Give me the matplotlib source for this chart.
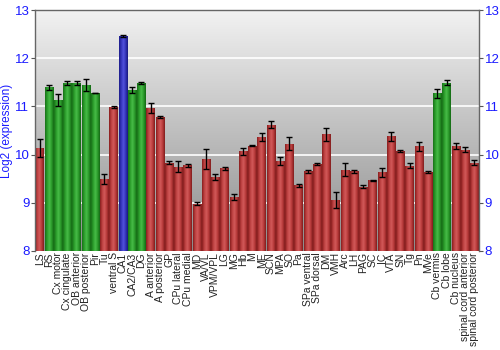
import numpy as np
import matplotlib
matplotlib.use("Agg")
import matplotlib.pyplot as plt
from matplotlib.colors import LinearSegmentedColormap

plt.rcParams['font.family'] = ['Liberation Sans', 'DejaVu Sans']

categories = ["LS", "RS", "Cx motor", "Cx cingulate", "OB anterior", "OB posterior", "Pir", "Tu",
              "ventral S", "CA1", "CA2/CA3", "DG", "A anterior", "A posterior", "GP", "CPu lateral",
              "CPu medial", "MD", "VA/VL", "VPM/VPL", "LG", "MG", "Hb", "M", "ME", "SCN", "MPA", "SO",
              "Pa", "SPa ventral", "SPa dorsal", "DM", "VMH", "Arc", "LH", "PAG", "SC", "IC", "VTA",
              "SN", "Tg", "Pn", "MVe", "Cb vermis", "Cb lobe", "Cb nucleus", "spinal cord anterior",
              "spinal cord posterior"]
values = [10.14, 11.40, 11.13, 11.48, 11.48, 11.45, 11.28, 9.49,
          10.99, 12.47, 11.34, 11.48, 10.97, 10.79, 9.83, 9.75,
          9.78, 8.98, 9.91, 9.54, 9.72, 9.12, 10.07, 10.18, 10.37, 10.62, 9.87, 10.23,
          9.36, 9.65, 9.80, 10.42, 9.06, 9.69, 9.65, 9.33, 9.47, 9.63, 10.38,
          10.07, 9.77, 10.17, 9.64, 11.27, 11.49, 10.18, 10.10, 9.83]
errors = [0.19, 0.05, 0.12, 0.04, 0.04, 0.13, 0.01, 0.10,
          0.03, 0.02, 0.06, 0.02, 0.10, 0.02, 0.03, 0.12,
          0.03, 0.03, 0.20, 0.06, 0.03, 0.07, 0.07, 0.01, 0.08, 0.07, 0.09, 0.13,
          0.04, 0.03, 0.02, 0.13, 0.16, 0.13, 0.03, 0.03, 0.01, 0.10, 0.10,
          0.02, 0.05, 0.10, 0.03, 0.10, 0.05, 0.07, 0.05, 0.05]
groups = ["r", "g", "g", "g", "g", "g", "g", "r",
          "r", "b", "g", "g", "r", "r", "r", "r",
          "r", "r", "r", "r", "r", "r", "r", "r", "r", "r", "r", "r",
          "r", "r", "r", "r", "r", "r", "r", "r", "r", "r", "r",
          "r", "r", "r", "r", "g", "g", "r", "r", "r"]
yticks = [8, 9, 10, 11, 12, 13]

palettes = {
    "r": ["#861e1e", "#bd4040", "#d25a5a", "#b83a3a", "#801c1c"],
    "g": ["#187018", "#2c9e2c", "#48bc48", "#2a9a2a", "#146814"],
    "b": ["#1c1c8a", "#3535bb", "#5252dd", "#3434b8", "#18187e"],
}

fig = plt.figure(figsize=(5, 3.5), dpi=100)
ax = fig.add_axes([0.07, 0.283, 0.888, 0.688])

n = len(categories)
x = np.arange(n)
ax.set_xlim(-0.5, n - 0.5)
ax.set_ylim(8, 13)

# background gradient
bg = LinearSegmentedColormap.from_list("bg", ["#8c8c8c", "#f2f2f2"])
grad = np.linspace(0, 1, 256).reshape(-1, 1)
ax.imshow(grad, cmap=bg, origin="lower", extent=(-0.5, n - 0.5, 8, 13),
          aspect="auto", zorder=0)

for yv in yticks[1:-1]:
    ax.axhline(yv, color="white", lw=1.2, zorder=1)

bars = ax.bar(x, np.array(values) - 8, bottom=8, width=0.9, color="none", zorder=2)
hgrad = np.linspace(0, 1, 64).reshape(1, -1)
for b, g in zip(bars, groups):
    cmap = LinearSegmentedColormap.from_list("c" + g, palettes[g])
    x0 = b.get_x()
    w = b.get_width()
    im = ax.imshow(hgrad, cmap=cmap, extent=(x0, x0 + w, 8, b.get_y() + b.get_height()),
                   aspect="auto", zorder=2)
    im.set_clip_path(b)

ax.errorbar(x, values, yerr=errors, fmt="none", ecolor="black", elinewidth=1,
            capsize=2, capthick=1, zorder=3)

ax.set_xticks(x)
ax.set_xticklabels(categories, rotation=90, fontsize=7.5, color="#222222")
ax.tick_params(axis="x", length=0, pad=1)
ax.set_yticks(yticks)
ax.tick_params(axis="y", which="both", colors="#555555", labelcolor="#1a1aff",
               labelsize=9.5, direction="out", length=3, pad=1, left=True, right=True,
               labelleft=True, labelright=True)
ax.set_ylabel("Log2 (expression)", color="#1a1aff", fontsize=8.5, labelpad=1)

for s in ["left", "right", "top"]:
    ax.spines[s].set_color("#666666")
    ax.spines[s].set_linewidth(1)
ax.spines["bottom"].set_visible(False)

fig.savefig("out.png", dpi=100)
